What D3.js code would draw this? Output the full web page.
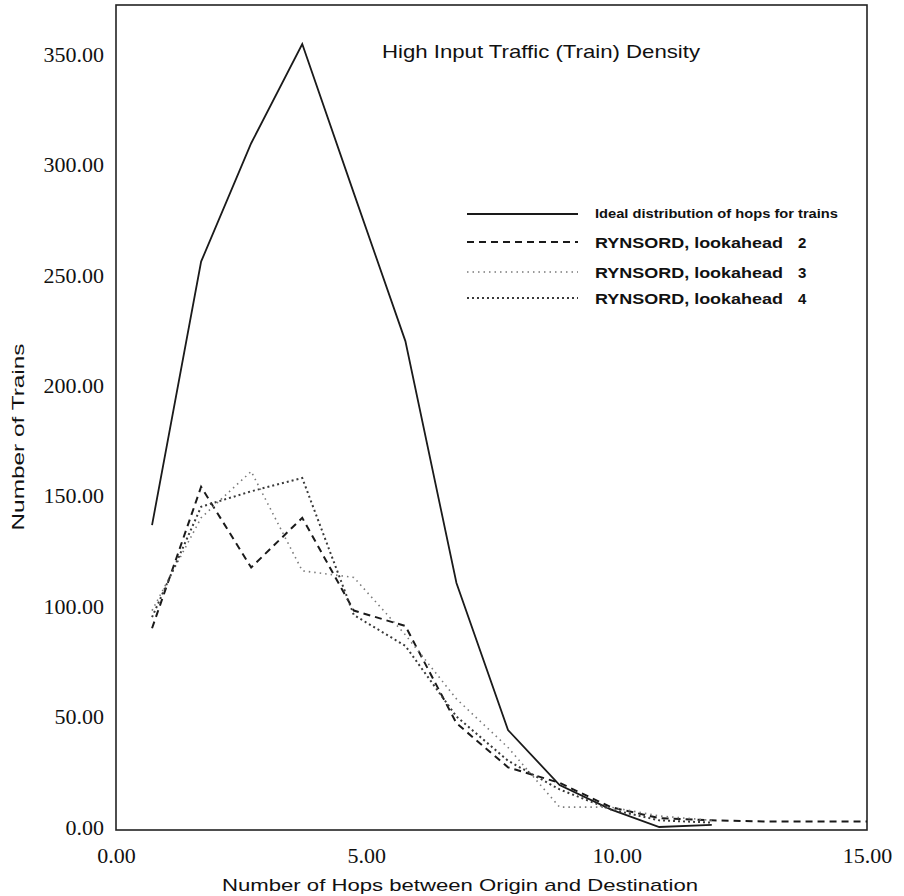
<!DOCTYPE html>
<html>
<head>
<meta charset="utf-8">
<script src="https://cdn.jsdelivr.net/npm/d3@7"></script>
<style>
  html, body { margin: 0; padding: 0; background: #fff; }
  svg { display: block; }
</style>
</head>
<body>
<svg id="chart" width="904" height="896"></svg>
<script>
// Number of hops between origin and destination (x positions of each sample)
const hops = [0.72, 1.70, 2.70, 3.72, 4.75, 5.78, 6.80, 7.83, 8.86, 9.88, 10.85, 11.90, 12.93, 13.96, 15.00];

// Number of trains per hop count
const idealTrains = [136.7, 256, 309.6, 354.5, 287, 220, 110.5, 43.9, 19, 8, 0, 1];
const lookahead2  = [90, 154, 117.5, 140, 98, 91, 47, 27, 20, 9, 4, 3, 2.5, 2.5, 2.5];
const lookahead3  = [98, 140, 161, 116, 113, 87, 58, 36, 9, 9, 5, 3];
const lookahead4  = [95, 145, 152, 158, 96, 82, 50, 30, 17, 8, 3, 2];

const xTicks = [0, 5, 10, 15];
const yTicks = [0, 50, 100, 150, 200, 250, 300, 350];

const legendLabels = [
  { text: "Ideal distribution of hops for trains", num: "" },
  { text: "RYNSORD, lookahead", num: "2" },
  { text: "RYNSORD, lookahead", num: "3" },
  { text: "RYNSORD, lookahead", num: "4" }
];

const svg = d3.select("#chart");

const x = d3.scaleLinear().domain([0, 15]).range([116, 867]);
const y = d3.scaleLinear().domain([0, 350]).range([827, 54]);

const serif = "'Liberation Serif', 'Times New Roman', serif";
const sans  = "'Liberation Sans', Arial, Helvetica, sans-serif";

// Frame around the plotting area
svg.append("rect")
  .attr("x", x(0)).attr("y", 5)
  .attr("width", x(15) - x(0)).attr("height", 830 - 5)
  .attr("fill", "none").attr("stroke", "#222").attr("stroke-width", 1.6);

// Axes: labels only, the frame acts as the axis line
const xAxis = d3.axisBottom(x).tickValues(xTicks).tickFormat(d3.format(".2f")).tickSize(0).tickPadding(0);
const gx = svg.append("g").attr("transform", "translate(0,830)").call(xAxis);
gx.select(".domain").remove();
gx.selectAll("text")
  .attr("font-family", serif).attr("font-size", 22).attr("fill", "#111")
  .attr("dy", null).attr("y", 33);

const yAxis = d3.axisLeft(y).tickValues(yTicks).tickFormat(d3.format(".2f")).tickSize(0).tickPadding(12);
const gy = svg.append("g").attr("transform", "translate(116,0)").call(yAxis);
gy.select(".domain").remove();
gy.selectAll("text")
  .attr("font-family", serif).attr("font-size", 22).attr("fill", "#111")
  .attr("dy", "0.33em");

// Axis titles
svg.append("text")
  .attr("x", 460).attr("y", 891)
  .attr("text-anchor", "middle")
  .attr("font-family", sans).attr("font-size", 17).attr("fill", "#111")
  .attr("textLength", 476).attr("lengthAdjust", "spacingAndGlyphs")
  .text("Number of Hops between Origin and Destination");

svg.append("text")
  .attr("transform", "translate(24,437) rotate(-90)")
  .attr("text-anchor", "middle")
  .attr("font-family", sans).attr("font-size", 17).attr("fill", "#111")
  .attr("textLength", 187).attr("lengthAdjust", "spacingAndGlyphs")
  .text("Number of Trains");

// Chart title
svg.append("text")
  .attr("x", 541).attr("y", 58)
  .attr("text-anchor", "middle")
  .attr("font-family", sans).attr("font-size", 18.5).attr("fill", "#111")
  .attr("textLength", 318).attr("lengthAdjust", "spacingAndGlyphs")
  .text("High Input Traffic (Train) Density");

// Series styling
const series = [
  { values: idealTrains, stroke: "#1a1a1a", width: 1.8, dash: null },
  { values: lookahead2,  stroke: "#1a1a1a", width: 2.0, dash: "7,5" },
  { values: lookahead3,  stroke: "#7a7a7a", width: 1.6, dash: "1.5,4" },
  { values: lookahead4,  stroke: "#3a3a3a", width: 2.0, dash: "2,3" }
];

const line = d3.line()
  .x(d => x(d[0]))
  .y(d => y(d[1]));

svg.append("g").selectAll("path")
  .data(series)
  .join("path")
  .attr("d", s => line(s.values.map((v, i) => [hops[i], v])))
  .attr("fill", "none")
  .attr("stroke", s => s.stroke)
  .attr("stroke-width", s => s.width)
  .attr("stroke-dasharray", s => s.dash)
  .attr("stroke-linejoin", "miter");

// Legend
const legendRowsY = [214, 242, 272, 298];
const legend = svg.append("g");
series.forEach((s, i) => {
  legend.append("line")
    .attr("x1", 467).attr("x2", 578)
    .attr("y1", legendRowsY[i]).attr("y2", legendRowsY[i])
    .attr("stroke", s.stroke).attr("stroke-width", s.width)
    .attr("stroke-dasharray", s.dash);
  const lab = legendLabels[i];
  if (i === 0) {
    legend.append("text")
      .attr("x", 595).attr("y", legendRowsY[i] + 4)
      .attr("font-family", sans).attr("font-size", 12.5).attr("font-weight", "bold").attr("fill", "#111")
      .attr("textLength", 243).attr("lengthAdjust", "spacingAndGlyphs")
      .text(lab.text);
  } else {
    legend.append("text")
      .attr("x", 595).attr("y", legendRowsY[i] + 6)
      .attr("font-family", sans).attr("font-size", 15).attr("font-weight", "bold").attr("fill", "#111")
      .attr("textLength", 188).attr("lengthAdjust", "spacingAndGlyphs")
      .text(lab.text);
    legend.append("text")
      .attr("x", 798).attr("y", legendRowsY[i] + 6)
      .attr("font-family", sans).attr("font-size", 15).attr("font-weight", "bold").attr("fill", "#111")
      .text(lab.num);
  }
});
</script>
</body>
</html>
